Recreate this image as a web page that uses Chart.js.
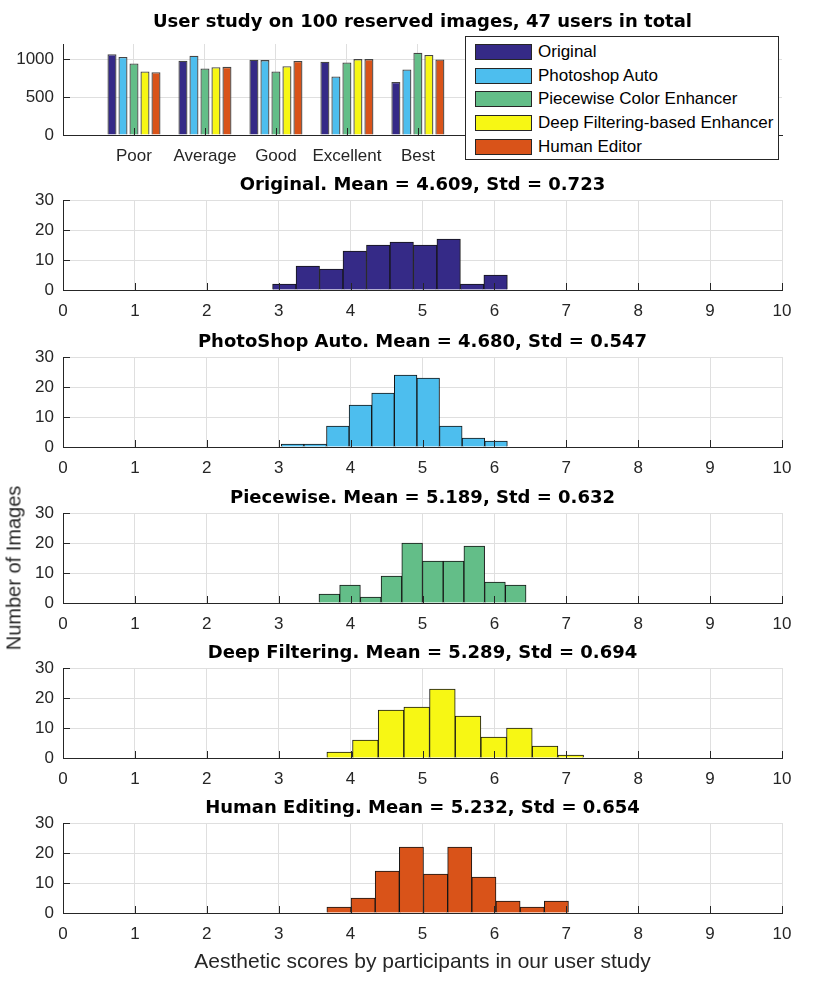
<!DOCTYPE html>
<html>
<head>
<meta charset="utf-8">
<title>User study on 100 reserved images</title>
<script src="https://cdn.jsdelivr.net/npm/chart.js@4/dist/chart.umd.min.js"></script>
<style>
  html, body { margin:0; padding:0; background:#fff; }
  body { width:830px; height:983px; position:relative; overflow:hidden; font-family:"Liberation Sans", Arial, sans-serif; }
  canvas { position:absolute; left:0; display:block; }
  #legend { position:absolute; left:465px; top:36px; width:314px; height:124px; box-sizing:border-box; border:1px solid #262626; background:#fff; z-index:5; }
  .item { position:absolute; left:9px; height:24px; display:flex; align-items:center; font-size:17px; color:#000; white-space:nowrap; }
  .sw { width:55px; height:14px; border:1px solid #262626; margin-right:6px; flex:none; }
  #ylabel { position:absolute; left:14px; top:568px; transform:translate(-50%,-50%) rotate(-90deg); font-size:20px; color:#262626; white-space:nowrap; z-index:5; }
</style>
</head>
<body>
<div id="legend"></div>
<div id="ylabel"></div>
<script>
// ---------- data ----------
const mainTitle = 'User study on 100 reserved images, 47 users in total';
const categories = ['Poor', 'Average', 'Good', 'Excellent', 'Best'];
const methods = ['Original', 'Photoshop Auto', 'Piecewise Color Enhancer', 'Deep Filtering-based Enhancer', 'Human Editor'];
const original      = [1064, 979, 993, 966, 700];
const photoshopAuto = [1028, 1046, 988, 771, 865];
const piecewise     = [944, 877, 838, 957, 1086];
const deepFiltering = [838, 895, 908, 1001, 1055];
const humanEditor   = [829, 899, 975, 1001, 997];
const voteTicks = [0, 500, 1000];

const histTitles = [
  'Original. Mean = 4.609, Std = 0.723',
  'PhotoShop Auto. Mean = 4.680, Std = 0.547',
  'Piecewise. Mean = 5.189, Std = 0.632',
  'Deep Filtering. Mean = 5.289, Std = 0.694',
  'Human Editing. Mean = 5.232, Std = 0.654'
];
const histOriginal  = [2, 8, 7, 13, 15, 16, 15, 17, 2, 5];
const histPhotoshop = [1, 1, 7, 14, 18, 24, 23, 7, 3, 2];
const histPiecewise = [3, 6, 2, 9, 20, 14, 14, 19, 7, 6];
const histDeep      = [2, 6, 16, 17, 23, 14, 7, 10, 4, 1];
const histHuman     = [2, 5, 14, 22, 13, 22, 12, 4, 2, 4];
const binStart = [2.915, 3.036, 3.56, 3.67, 3.67];
const binWidth = [0.3265, 0.3144, 0.288, 0.357, 0.336];
const scoreTicks = [0, 1, 2, 3, 4, 5, 6, 7, 8, 9, 10];
const countTicks = [0, 10, 20, 30];
const xLabel = 'Aesthetic scores by participants in our user study';
const yLabel = 'Number of Images';

// ---------- style ----------
const methodColors = ['#352a87', '#4dbeee', '#63be88', '#f7f714', '#d95319'];
const SANS = '"Liberation Sans", Arial, Helvetica, sans-serif';
const BOLD = '"DejaVu Sans", "Liberation Sans", sans-serif';
const AX = '#262626';
const GRID = '#dfdfdf';
Chart.defaults.font.family = SANS;
Chart.defaults.color = AX;

const inwardTicks = {
  id: 'inwardTicks',
  afterDraw(chart) {
    const { ctx, chartArea: a } = chart;
    const xs = chart.scales.x, ys = chart.scales.y;
    ctx.save();
    ctx.strokeStyle = AX;
    ctx.lineWidth = 1;
    ctx.beginPath();
    xs.ticks.forEach(t => {
      const px = Math.round(xs.getPixelForValue(t.value)) + 0.5;
      ctx.moveTo(px, a.bottom); ctx.lineTo(px, a.bottom - 7);
    });
    ys.ticks.forEach(t => {
      const py = Math.round(ys.getPixelForValue(t.value)) + 0.5;
      ctx.moveTo(a.left, py); ctx.lineTo(a.left + 7, py);
    });
    ctx.stroke();
    ctx.restore();
  }
};

function makeCanvas(top, h) {
  const c = document.createElement('canvas');
  c.width = 830; c.height = h;
  c.style.top = top + 'px';
  c.style.width = '830px'; c.style.height = h + 'px';
  document.body.insertBefore(c, document.getElementById('legend'));
  return c;
}

// ---------- legend & y label ----------
document.getElementById('ylabel').textContent = yLabel;
const legendEl = document.getElementById('legend');
methods.forEach((m, i) => {
  const it = document.createElement('div');
  it.className = 'item';
  it.style.top = (2.7 + 23.8 * i) + 'px';
  const sw = document.createElement('span');
  sw.className = 'sw';
  sw.style.background = methodColors[i];
  const tx = document.createElement('span');
  tx.textContent = m;
  it.appendChild(sw); it.appendChild(tx);
  legendEl.appendChild(it);
});

// ---------- top grouped bar chart ----------
const seriesVotes = [original, photoshopAuto, piecewise, deepFiltering, humanEditor];
new Chart(makeCanvas(0, 175), {
  type: 'bar',
  data: {
    datasets: methods.map((m, i) => ({
      label: m,
      data: seriesVotes[i].map((v, k) => ({ x: k + 1, y: v })),
      backgroundColor: methodColors[i],
      borderColor: '#454545',
      borderWidth: 1.3,
      borderSkipped: 'bottom',
      categoryPercentage: 0.775,
      barPercentage: 0.82
    }))
  },
  options: {
    responsive: false, animation: false, devicePixelRatio: 1,
    layout: { padding: { left: 0, right: 48, top: 0, bottom: 0 } },
    plugins: {
      legend: { display: false }, tooltip: { enabled: false },
      title: { display: true, text: mainTitle, fullSize: false, color: '#000',
               font: { family: BOLD, size: 18, weight: 'bold' }, padding: { top: 11.5, bottom: 10.9 } }
    },
    scales: {
      x: {
        type: 'linear', min: 0, max: 10.13, offset: false,
        grid: { offset: false, color: GRID, drawTicks: false },
        border: { color: AX },
        afterBuildTicks: s => { s.ticks = categories.map((c, k) => ({ value: k + 1 })); },
        ticks: { autoSkip: false, maxRotation: 0, padding: 11, font: { size: 17 }, color: AX,
                 callback: v => categories[v - 1] },
        afterFit: s => { s.height = 40; }
      },
      y: {
        min: 0, max: 1200,
        grid: { color: GRID, drawTicks: false },
        border: { color: AX },
        afterBuildTicks: s => { s.ticks = voteTicks.map(v => ({ value: v })); },
        ticks: { padding: 9, font: { size: 17 }, color: AX, callback: v => String(v) },
        afterFit: s => { s.width = 63; }
      }
    }
  },
  plugins: [inwardTicks]
});

// ---------- histograms ----------
const histCounts = [histOriginal, histPhotoshop, histPiecewise, histDeep, histHuman];
const histTops = [170, 327, 483, 638, 793];
histCounts.forEach((counts, i) => {
  const isLast = i === histCounts.length - 1;
  const h = isLast ? 190 : 155;
  const centers = counts.map((c, k) => binStart[i] + binWidth[i] * (k + 0.5));
  new Chart(makeCanvas(histTops[i], h), {
    type: 'bar',
    data: {
      datasets: [{
        data: counts.map((c, k) => ({ x: centers[k], y: c })),
        backgroundColor: methodColors[i],
        borderColor: '#151515',
        borderWidth: 1,
        borderSkipped: 'bottom',
        barPercentage: 1,
        categoryPercentage: 1
      }]
    },
    options: {
      responsive: false, animation: false, devicePixelRatio: 1,
      layout: { padding: { left: 0, right: 48, top: 0, bottom: 0 } },
      plugins: {
        legend: { display: false }, tooltip: { enabled: false },
        title: { display: true, text: histTitles[i], fullSize: false, color: '#000',
                 font: { family: BOLD, size: 18, weight: 'bold' }, padding: { top: 4.2, bottom: 4.2 } }
      },
      scales: {
        x: {
          type: 'linear', min: 0, max: 10, offset: false,
          grid: { offset: false, color: GRID, drawTicks: false },
          border: { color: AX },
          afterBuildTicks: s => { s.ticks = scoreTicks.map(v => ({ value: v })); },
          ticks: { autoSkip: false, maxRotation: 0, padding: 11, font: { size: 17 }, color: AX,
                   callback: v => String(v) },
          title: isLast ? { display: true, text: xLabel, color: AX, font: { size: 21 }, padding: { top: 0, bottom: 8 } }
                        : { display: false },
          afterFit: s => { s.height = h - 120; }
        },
        y: {
          min: 0, max: 30,
          grid: { color: GRID, drawTicks: false },
          border: { color: AX },
          afterBuildTicks: s => { s.ticks = countTicks.map(v => ({ value: v })); },
          ticks: { padding: 9, font: { size: 17 }, color: AX, callback: v => String(v) },
          afterFit: s => { s.width = 63; }
        }
      }
    },
    plugins: [inwardTicks]
  });
});
</script>
</body>
</html>
